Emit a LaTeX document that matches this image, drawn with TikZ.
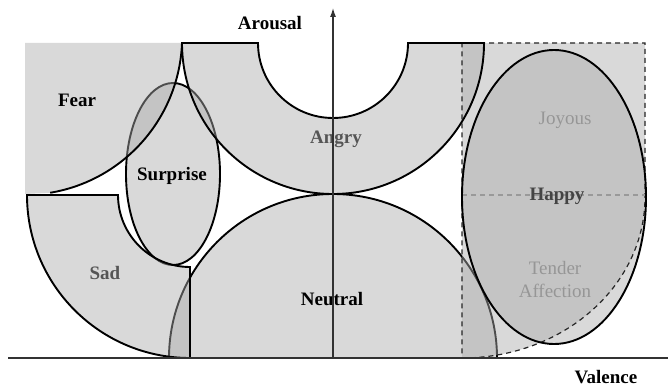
\documentclass[tikz,border=0pt]{standalone}
\usepackage{fontspec}
\setmainfont{Liberation Serif}
\usetikzlibrary{arrows.meta}
\definecolor{regfill}{RGB}{171,171,171}
\definecolor{midtext}{RGB}{85,85,85}
\definecolor{lighttext}{RGB}{150,150,150}
\definecolor{happytext}{RGB}{68,68,68}
\definecolor{axiscol}{RGB}{50,50,50}
\begin{document}
\begin{tikzpicture}[x=1pt,y=1pt,
  region/.style={fill=regfill,fill opacity=0.45},
  edge/.style={draw=black,line width=1.9pt},
  dashedge/.style={draw=black!85,line width=1.2pt,dash pattern=on 5pt off 4pt},
  graydash/.style={draw=black!40,line width=1.2pt,dash pattern=on 5pt off 4pt},
  lbl/.style={font=\fontsize{19}{22}\selectfont\bfseries,inner sep=0pt,anchor=base},
  thin lbl/.style={font=\fontsize{19}{22}\selectfont,inner sep=0pt,anchor=base,text=lighttext},
  axisline/.style={draw=axiscol,line width=1.6pt}]
\useasboundingbox (0,0) rectangle (668,386);

% Surprise (bottom-most layer)
\path[region] (173,212) ellipse [x radius=47,y radius=91];
\draw[edge] (173,212) ellipse [x radius=47,y radius=91];

% Neutral
\path[region] (169,28) arc[start angle=180,end angle=0,radius=164] -- cycle;
\draw[edge] (169,28) arc[start angle=180,end angle=0,radius=164];

% Fear
\path[region] (25,343) -- (182,343) arc[start angle=-2.2,end angle=-80.5,radius=158] -- (25,192) -- cycle;
% Angry
\path[region] (182,343) -- (258,343) arc[start angle=180,end angle=360,radius=75]
  -- (484,343) arc[start angle=0,end angle=-180,radius=151] -- cycle;
% Sad
\path[region] (27,191) -- (118,191) arc[start angle=180,end angle=270,radius=72]
  -- (190,28) arc[start angle=270,end angle=180,radius=163] -- cycle;
% Happy zone
\path[region] (462,343) -- (645,343) -- (645,189)
  arc[start angle=0,end angle=-90,x radius=183,y radius=161] -- cycle;
% Happy ellipse
\path[region] (554,189) ellipse [x radius=92,y radius=147];

% outlines
\draw[edge] (182,343) arc[start angle=-2.2,end angle=-80.5,radius=158];
\draw[dashedge] (462,343) -- (645,343) -- (645,189)
  arc[start angle=0,end angle=-90,x radius=183,y radius=161] -- cycle;
\draw[graydash] (462,191) -- (645,191);
\draw[edge] (182,343) -- (258,343) arc[start angle=180,end angle=360,radius=75]
  -- (484,343) arc[start angle=0,end angle=-180,radius=151] -- cycle;
\draw[edge] (27,191) -- (118,191) arc[start angle=180,end angle=270,radius=72]
  -- (190,28) arc[start angle=270,end angle=180,radius=163] -- cycle;
\draw[edge] (554,189) ellipse [x radius=92,y radius=147];

% labels
\node[lbl] (fear) at (77,279) {Fear};
\node[lbl] (surprise) at (172,206) {Surprise};
\node[lbl,text=midtext] (angry) at (336,243) {Angry};
\node[lbl,text=midtext] (sad) at (105,107) {Sad};
\node[lbl] (neutral) at (332,81) {Neutral};
\node[lbl,text=happytext] (happy) at (557,186) {Happy};
\node[thin lbl] (joyous) at (565,261) {Joyous};
\node[thin lbl] (tender) at (555,112) {Tender};
\node[thin lbl] (affection) at (555,89) {Affection};

% axes
\coordinate (xa) at (8,28);
\coordinate (xb) at (668,28);
\coordinate (ya) at (333,28);
\coordinate (yb) at (333,378);
\draw[axisline] (xa) -- (xb);
\draw[draw=axiscol,line width=1.2pt,-{Latex[length=9pt,width=6pt]}] (ya) -- (yb);
\node[lbl] (arousal) at (270,356) {Arousal};
\node[lbl] (valence) at (606,3) {Valence};
\end{tikzpicture}
\end{document}
